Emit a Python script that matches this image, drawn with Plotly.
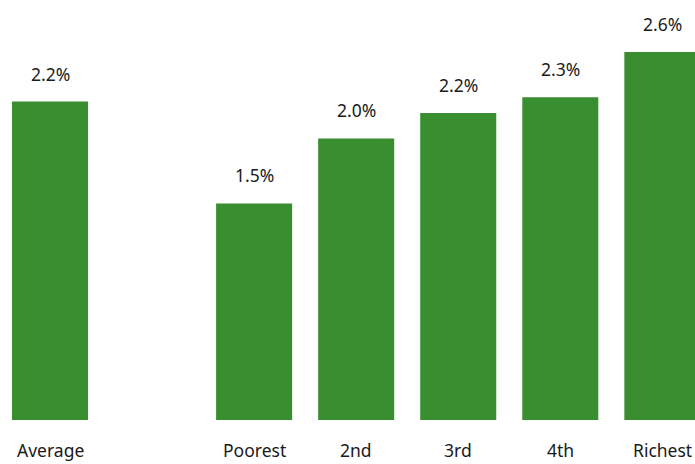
import plotly.graph_objects as go

categories = ["Average", "Poorest", "2nd", "3rd", "4th", "Richest"]
positions = [0, 2, 3, 4, 5, 6]
values = [2.25, 1.53, 1.99, 2.17, 2.28, 2.6]
labels = ["2.2%", "1.5%", "2.0%", "2.2%", "2.3%", "2.6%"]

green = "rgb(57,142,48)"
font_family = "Noto Sans, Open Sans, sans-serif"

fig = go.Figure()
fig.add_trace(go.Bar(x=positions, y=values, width=0.745,
                     marker=dict(color=green, line=dict(width=0)),
                     hoverinfo="skip"))

annotations = []
for p, v, l in zip(positions, values, labels):
    annotations.append(dict(x=p, y=v, xref="x", yref="y", text=l, showarrow=False,
                            yshift=28, font=dict(size=17.5, color="#1a1a1a", family=font_family)))
for p, c in zip(positions, categories):
    annotations.append(dict(x=p, y=0, xref="x", yref="y", text=c, showarrow=False,
                            yshift=-30, font=dict(size=17.5, color="#1a1a1a", family=font_family)))

fig.update_layout(
    width=695, height=464,
    margin=dict(l=0, r=0, t=0, b=44),
    plot_bgcolor="white", paper_bgcolor="white",
    showlegend=False,
    xaxis=dict(range=[-0.49, 6.32], visible=False),
    yaxis=dict(range=[0, 2.968], visible=False),
    annotations=annotations,
)

fig.write_html("out.html", config={"displayModeBar": False},
               post_script="document.body.style.margin='0';document.body.style.overflow='hidden';")
